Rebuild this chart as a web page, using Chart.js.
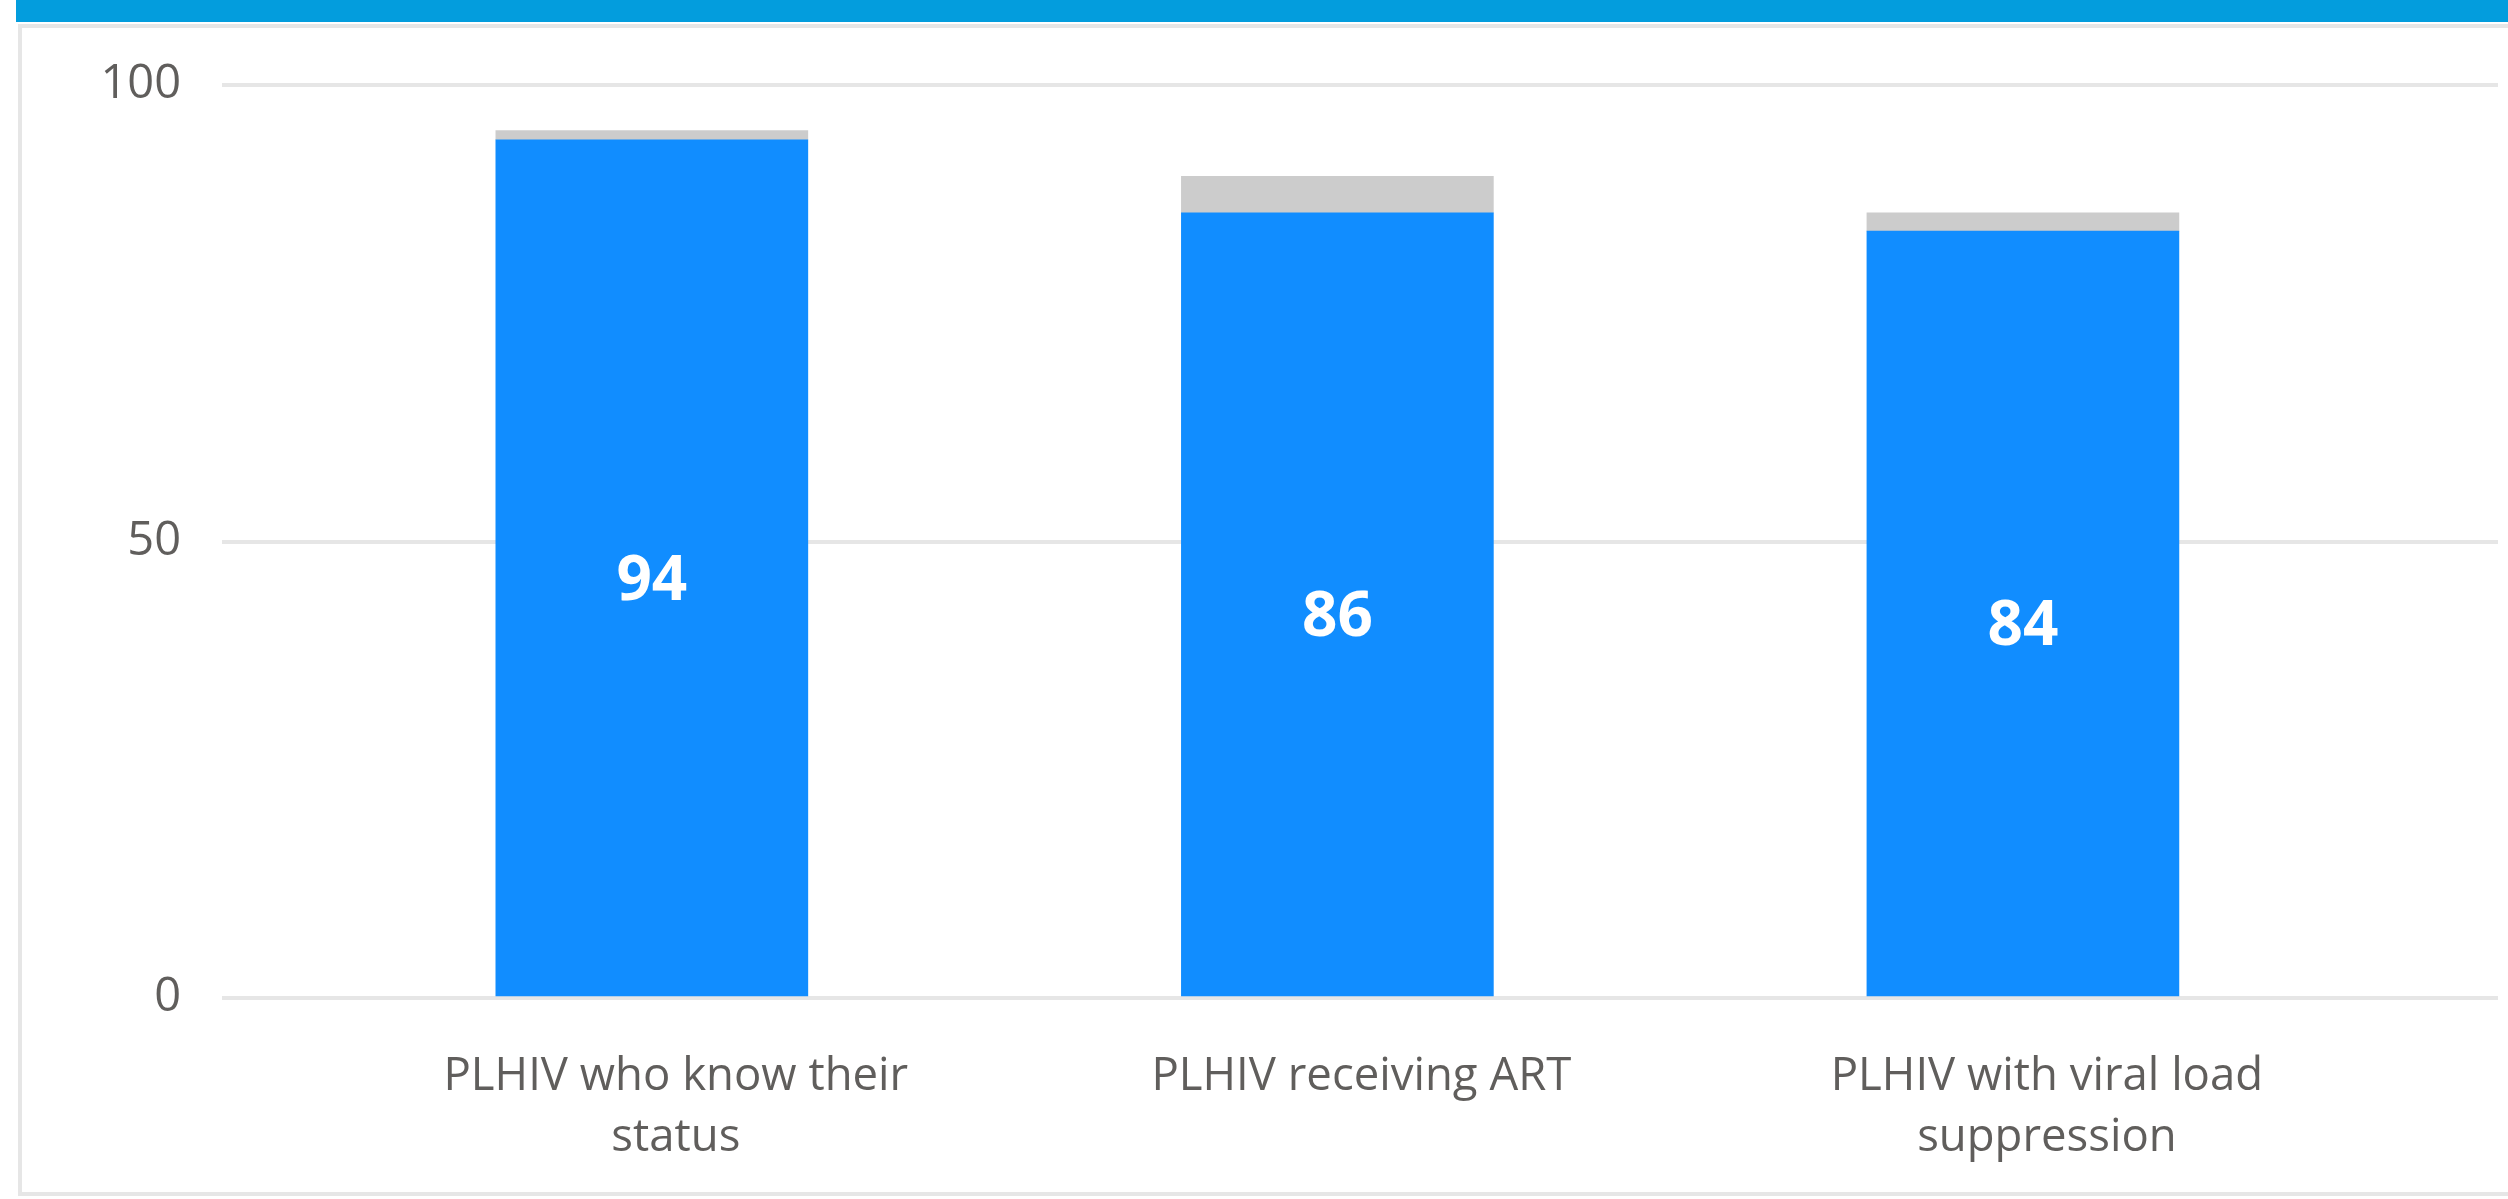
<!DOCTYPE html>
<html>
<head>
<meta charset="utf-8">
<script src="https://cdn.jsdelivr.net/npm/chart.js@4"></script>
<style>
  body { margin: 0; background: #fff; overflow: hidden; width: 2508px; height: 1199px; }
  #topbar { position: absolute; left: 16px; top: 0; width: 2492px; height: 22px; background: #039ddd; }
  #frame { position: absolute; left: 18px; top: 24px; width: 2500px; height: 1172px;
           border: 4px solid #e6e6e6; border-right: none; box-sizing: border-box; }
  #chart { position: absolute; left: 0; top: 0; }
</style>
</head>
<body>
<div id="topbar"></div>
<div id="frame"></div>
<canvas id="chart" width="2508" height="1199"></canvas>
<script>
const categories = [
  ['PLHIV who know their', 'status'],
  ['PLHIV receiving ART'],
  ['PLHIV with viral load', 'suppression'],
];
const achieved = [94, 86, 84];
const gap = [1, 4, 2];
const yTicks = [0, 50, 100];

const textColor = '#605e5c';
const font = '"Open Sans", "Noto Sans", sans-serif';

const valueLabels = {
  id: 'valueLabels',
  afterDatasetsDraw(chart) {
    const { ctx } = chart;
    const meta = chart.getDatasetMeta(0);
    ctx.save();
    ctx.fillStyle = '#ffffff';
    ctx.font = `bold 62px ${font}`;
    ctx.textAlign = 'center';
    ctx.textBaseline = 'middle';
    meta.data.forEach((bar, i) => {
      ctx.fillText(String(achieved[i]), bar.x, (bar.y + bar.base) / 2 + 14);
    });
    ctx.restore();
  },
};

new Chart(document.querySelector('#chart'), {
  type: 'bar',
  data: {
    datasets: [
      {
        label: 'Achieved',
        data: achieved.map((v, i) => ({ x: i, y: v })),
        backgroundColor: '#118dff',
        barThickness: 312,
      },
      {
        label: 'Gap',
        data: gap.map((v, i) => ({ x: i, y: v })),
        backgroundColor: '#cccccc',
        barThickness: 312,
      },
    ],
  },
  options: {
    responsive: false,
    animation: false,
    layout: { padding: { top: 85, right: 10, bottom: 0, left: 0 } },
    plugins: { legend: { display: false }, tooltip: { enabled: false } },
    scales: {
      x: {
        type: 'linear',
        stacked: true,
        offset: false,
        bounds: 'data',
        min: -0.627,
        max: 2.693,
        grid: { display: false },
        border: { display: false },
        afterBuildTicks: scale => {
          scale.ticks = categories.map((c, i) => ({ value: i }));
        },
        afterFit: scale => { scale.height = 201; },
        ticks: {
          autoSkip: false,
          maxRotation: 0,
          padding: 41,
          labelOffset: 24,
          color: textColor,
          font: { family: font, size: 45.5, lineHeight: 1.33 },
          callback: value => categories[value],
        },
      },
      y: {
        stacked: true,
        min: 0,
        max: 100,
        afterBuildTicks: scale => {
          scale.ticks = yTicks.map(v => ({ value: v }));
        },
        afterFit: scale => { scale.width = 222; },
        grid: { color: '#e6e6e6', lineWidth: 4, drawTicks: false },
        border: { display: false },
        ticks: {
          padding: 41,
          color: textColor,
          font: { family: font, size: 47 },
        },
      },
    },
  },
  plugins: [valueLabels],
});
</script>
</body>
</html>
